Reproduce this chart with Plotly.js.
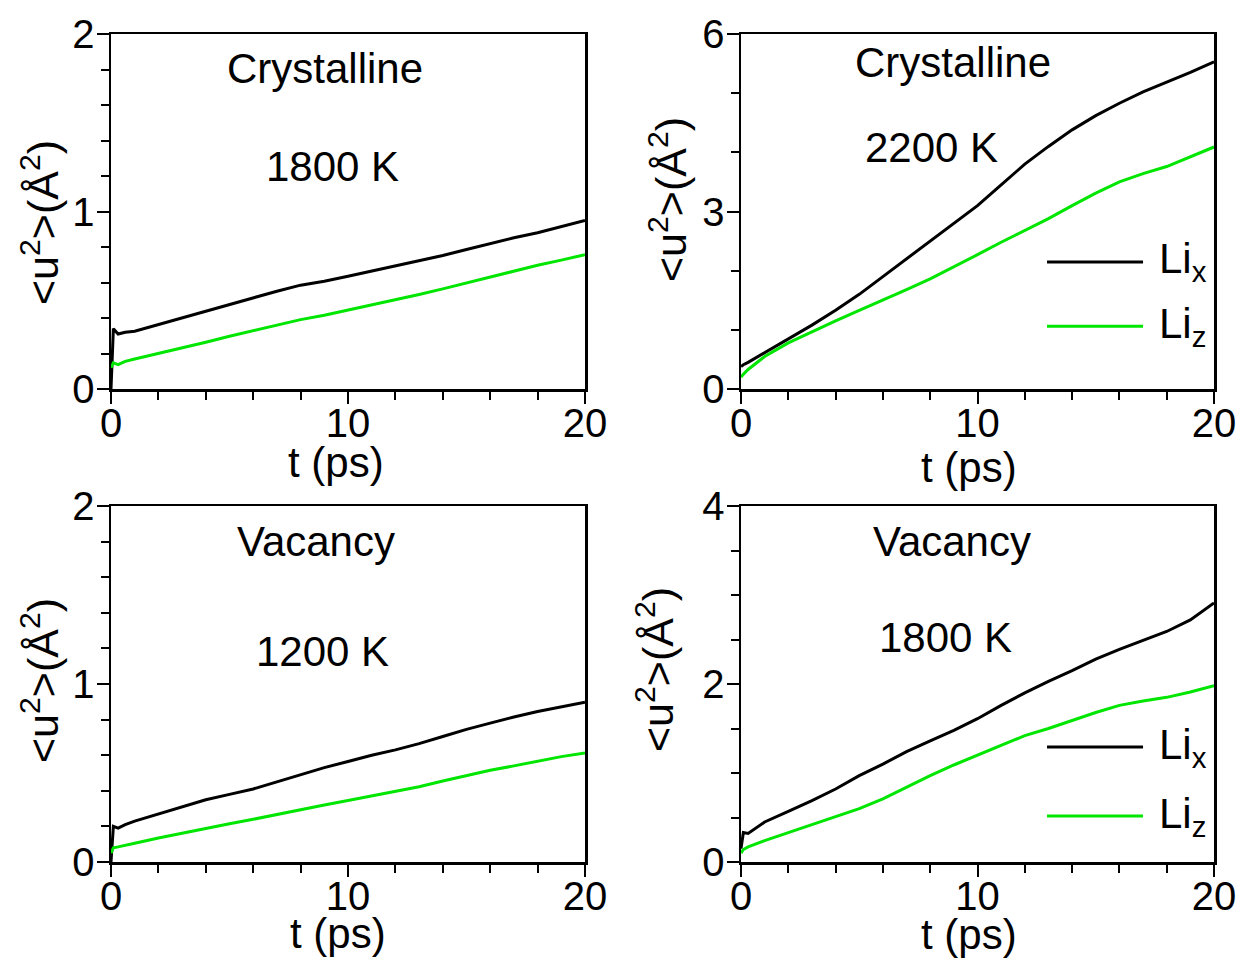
<!DOCTYPE html>
<html>
<head>
<meta charset="utf-8">
<script src="https://cdn.plot.ly/plotly-3.0.1.min.js"></script>
<style>html,body{margin:0;padding:0;background:#fff;}</style>
</head>
<body>
<div id="chart" style="width:1241px;height:961px;"></div>
<script>
// time axis (ps)
const t = [0, 0.1, 0.3, 0.6, 1, 2, 3, 4, 5, 6, 7, 8, 9, 10, 11, 12, 13, 14, 15, 16, 17, 18, 19, 20];

// Crystalline 1800 K
const crys1800_Lix = [0, 0.34, 0.31, 0.32, 0.325, 0.363, 0.40, 0.438, 0.476, 0.517, 0.551, 0.585, 0.607, 0.635, 0.664, 0.692, 0.72, 0.752, 0.786, 0.82, 0.852, 0.88, 0.914, 0.949];
const crys1800_Liz = [0.12, 0.147, 0.137, 0.156, 0.169, 0.199, 0.231, 0.263, 0.297, 0.329, 0.363, 0.391, 0.415, 0.444, 0.472, 0.504, 0.532, 0.564, 0.598, 0.63, 0.664, 0.697, 0.726, 0.757];

// Crystalline 2200 K
const crys2200_Lix = [0.38, 0.41, 0.45, 0.52, 0.6, 0.84, 1.08, 1.33, 1.6, 1.9, 2.2, 2.5, 2.8, 3.1, 3.45, 3.8, 4.1, 4.38, 4.62, 4.83, 5.02, 5.18, 5.35, 5.53];
const crys2200_Liz = [0.2, 0.25, 0.33, 0.43, 0.55, 0.78, 0.97, 1.15, 1.33, 1.5, 1.68, 1.86, 2.06, 2.27, 2.48, 2.68, 2.88, 3.1, 3.31, 3.5, 3.64, 3.76, 3.92, 4.09];

// Vacancy 1200 K
const vac1200_Lix = [0, 0.2, 0.19, 0.21, 0.23, 0.27, 0.31, 0.35, 0.38, 0.41, 0.45, 0.49, 0.53, 0.565, 0.6, 0.63, 0.665, 0.705, 0.745, 0.78, 0.815, 0.845, 0.872, 0.897];
const vac1200_Liz = [0.05, 0.08, 0.085, 0.095, 0.105, 0.135, 0.163, 0.19, 0.215, 0.24, 0.268, 0.295, 0.32, 0.345, 0.37, 0.395, 0.423, 0.455, 0.485, 0.515, 0.54, 0.565, 0.592, 0.612];

// Vacancy 1800 K
const vac1800_Lix = [0.15, 0.33, 0.32, 0.38, 0.45, 0.57, 0.69, 0.82, 0.97, 1.1, 1.24, 1.36, 1.48, 1.61, 1.76, 1.9, 2.03, 2.15, 2.28, 2.39, 2.49, 2.59, 2.72, 2.91];
const vac1800_Liz = [0.1, 0.14, 0.17, 0.2, 0.24, 0.33, 0.42, 0.51, 0.6, 0.71, 0.84, 0.97, 1.09, 1.2, 1.31, 1.42, 1.5, 1.59, 1.68, 1.76, 1.81, 1.85, 1.91, 1.98];

const panelTitles = ["Crystalline", "Crystalline", "Vacancy", "Vacancy"];
const panelTemps = ["1800 K", "2200 K", "1200 K", "1800 K"];
const xTitle = "t (ps)";
const yTitle = "&lt;u<sup>2</sup>&gt;(Å<sup>2</sup>)";
const yRanges = [[0, 2], [0, 6], [0, 2], [0, 4]];
const yDticks = [1, 3, 1, 2];
const yMinor = [0.2, 1, 0.2, 0.5];
const legendNames = ["Li<sub>x</sub>", "Li<sub>z</sub>"];

const BLACK = "#000000";
const GREEN = "#00e600";
const FONT = "Liberation Sans, Arial, sans-serif";

const series = [
  [crys1800_Lix, crys1800_Liz],
  [crys2200_Lix, crys2200_Liz],
  [vac1200_Lix, vac1200_Liz],
  [vac1800_Lix, vac1800_Liz]
];

const W = 1241, H = 961;
const xDom = [[111 / W, 585 / W], [741 / W, 1214 / W]];
const yDom = [[1 - 389 / H, 1 - 34 / H], [1 - 862 / H, 1 - 506 / H]];

const traces = [];
series.forEach((pair, i) => {
  const sfx = i === 0 ? "" : String(i + 1);
  pair.forEach((ys, j) => {
    traces.push({
      x: t, y: ys, type: "scatter", mode: "lines",
      xaxis: "x" + sfx, yaxis: "y" + sfx,
      line: {color: j === 0 ? BLACK : GREEN, width: 3},
      showlegend: false, hoverinfo: "skip"
    });
  });
});

const layout = {
  width: W, height: H,
  margin: {l: 0, r: 0, t: 0, b: 0},
  paper_bgcolor: "#fff", plot_bgcolor: "#fff",
  font: {family: FONT, color: "#000", size: 40},
  showlegend: false,
  annotations: [],
  shapes: []
};

function ann(x, y, text, extra) {
  return Object.assign({
    xref: "paper", yref: "paper", x: x / W, y: 1 - y / H,
    text: text, showarrow: false, xanchor: "center", yanchor: "middle",
    font: {family: FONT, size: 42, color: "#000"}
  }, extra || {});
}

const titlePos = [[325, 68], [953, 63], [316, 541], [952, 541]];
const tempPos = [[332, 167], [931, 148], [322, 651], [945, 637]];
const xTitlePos = [[336, 462], [969, 467], [338, 933], [969, 934]];
const yTitlePos = [[40, 222], [668, 200], [40, 680], [655, 670]];

for (let i = 0; i < 4; i++) {
  const sfx = i === 0 ? "" : String(i + 1);
  const col = i % 2, row = Math.floor(i / 2);
  layout["xaxis" + sfx] = {
    domain: xDom[col], anchor: "y" + sfx, range: [0, 20],
    tickmode: "linear", tick0: 0, dtick: 10,
    ticks: "outside", ticklen: 12, tickwidth: 2, tickcolor: "#000",
    minor: {dtick: 2, ticks: "outside", ticklen: 8, tickwidth: 2, tickcolor: "#000", showgrid: false},
    showline: true, linewidth: 2.5, linecolor: "#000", mirror: true,
    showgrid: false, zeroline: false, automargin: false,
    ticklabelstandoff: -15,
    tickfont: {family: FONT, size: 40}
  };
  layout["yaxis" + sfx] = {
    domain: yDom[row], anchor: "x" + sfx, range: yRanges[i],
    tickmode: "linear", tick0: 0, dtick: yDticks[i],
    ticks: "outside", ticklen: 12, tickwidth: 2, tickcolor: "#000",
    minor: {dtick: yMinor[i], ticks: "outside", ticklen: 8, tickwidth: 2, tickcolor: "#000", showgrid: false},
    showline: true, linewidth: 2.5, linecolor: "#000", mirror: true,
    showgrid: false, zeroline: false, automargin: false,
    ticklabelstandoff: -6,
    tickfont: {family: FONT, size: 40}
  };
  layout.annotations.push(ann(titlePos[i][0], titlePos[i][1], panelTitles[i]));
  layout.annotations.push(ann(tempPos[i][0], tempPos[i][1], panelTemps[i]));
  layout.annotations.push(ann(xTitlePos[i][0], xTitlePos[i][1], xTitle));
  layout.annotations.push(ann(yTitlePos[i][0], yTitlePos[i][1], yTitle, {textangle: -90, font: {family: FONT, size: 43, color: "#000"}}));
}

// legends in the right-hand panels
const legendRows = [
  {sfx: "2", ys: [0.358, 0.177]},
  {sfx: "4", ys: [0.323, 0.129]}
];
legendRows.forEach(lg => {
  lg.ys.forEach((yy, j) => {
    layout.shapes.push({
      type: "line", xref: "x" + lg.sfx + " domain", yref: "y" + lg.sfx + " domain",
      x0: 0.647, x1: 0.85, y0: yy, y1: yy,
      line: {color: j === 0 ? BLACK : GREEN, width: 3}
    });
    layout.annotations.push({
      xref: "x" + lg.sfx + " domain", yref: "y" + lg.sfx + " domain",
      x: 0.88, y: yy, xanchor: "left", yanchor: "middle",
      text: legendNames[j], showarrow: false,
      font: {family: FONT, size: 42, color: "#000"}
    });
  });
});

Plotly.newPlot("chart", traces, layout, {staticPlot: true, displayModeBar: false});
</script>
</body>
</html>
